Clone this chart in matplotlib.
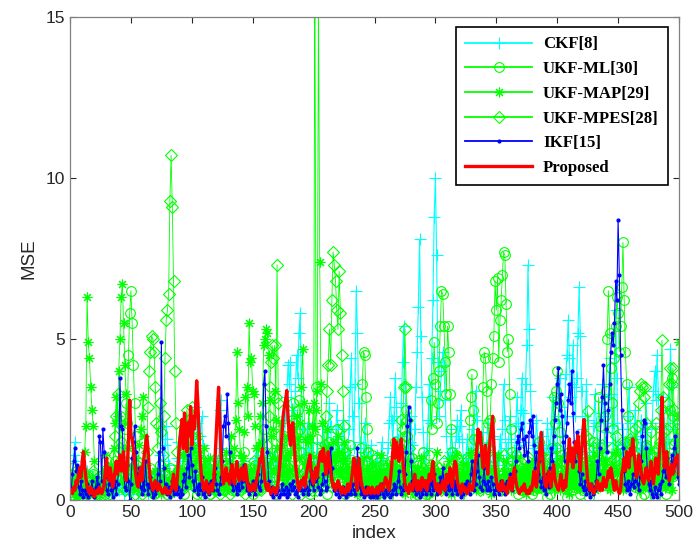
import numpy as np
import matplotlib
matplotlib.use("Agg")
import matplotlib.pyplot as plt

# ---------------- data (index 1..500) ----------------
ckf = [
0.5,0.9,1.4,1.8,1.2,0.6,0.3,0.8,0.4,0.2,0.6,0.3,0.5,0.9,0.4,0.2,0.3,0.7,0.4,0.2,0.5,0.3,0.6,0.4,0.2,
0.3,0.6,0.9,0.5,0.3,0.2,0.4,0.7,0.3,0.5,0.2,0.4,0.8,0.5,0.3,0.6,0.9,0.4,0.2,0.3,0.5,0.7,0.3,0.2,0.4,
0.6,0.3,0.5,0.8,0.4,0.2,0.3,0.6,0.4,0.7,1.0,0.5,0.3,0.2,0.4,0.6,0.3,0.5,0.8,0.4,0.3,0.6,1.0,1.4,0.7,
0.5,1.2,1.7,2.3,1.9,1.1,0.6,0.4,0.7,0.3,0.5,0.8,1.3,1.8,1.2,0.6,0.9,1.5,2.0,1.4,0.8,0.5,1.0,1.6,2.2,
2.5,1.8,2.9,2.4,1.5,0.9,2.0,2.6,1.7,1.0,0.6,0.9,1.3,0.8,0.5,0.7,1.1,0.6,0.4,0.8,1.2,0.9,2.8,3.1,1.6,
1.0,0.6,0.9,0.5,0.7,1.2,0.8,0.5,0.3,0.6,0.9,0.5,0.7,1.0,0.6,0.4,0.8,1.2,0.9,0.6,0.4,0.7,1.0,0.6,0.5,
0.8,1.3,0.9,1.6,1.1,0.7,1.4,0.9,0.6,1.1,0.8,0.5,0.9,1.3,0.8,0.6,1.0,1.5,1.1,0.7,0.5,0.9,1.3,0.8,1.2,
1.9,2.6,3.2,4.2,3.6,4.3,2.8,1.6,2.2,3.4,4.5,3.8,5.2,5.8,3.5,2.2,1.4,0.9,1.6,2.4,1.5,0.9,1.3,1.8,1.0,
0.7,1.2,1.8,1.1,0.6,0.9,1.5,2.3,1.6,0.8,1.3,2.1,3.0,2.3,1.4,0.8,1.2,1.9,2.8,2.2,1.5,1.0,1.6,2.5,1.8,
1.2,0.8,1.4,2.2,3.5,4.4,2.6,1.6,3.6,6.5,5.2,3.0,1.8,1.2,0.9,1.5,2.4,1.6,1.0,0.7,1.1,1.7,1.2,0.8,0.6,
0.9,1.4,1.0,0.7,1.2,1.8,1.3,0.9,0.6,1.0,1.6,2.4,3.2,2.5,1.8,2.6,3.8,2.9,1.9,1.3,2.0,3.0,4.3,5.4,3.6,
2.4,1.6,1.1,1.8,2.6,1.7,1.2,2.2,3.5,4.6,6.0,8.1,5.1,3.2,2.1,1.4,0.9,1.6,2.5,3.6,2.4,4.4,6.2,8.8,10.0,
7.6,4.3,2.6,3.4,4.0,4.6,4.2,3.1,2.0,1.3,0.9,1.5,2.2,1.6,1.0,1.4,2.0,2.5,1.8,2.3,2.8,1.9,1.2,0.8,1.3,
1.9,1.4,0.9,1.5,2.2,1.6,2.6,3.4,2.5,1.7,1.2,0.8,1.3,2.1,1.5,1.0,1.7,2.4,1.8,1.2,0.8,1.4,2.0,1.5,1.1,
0.8,1.3,1.9,1.4,2.2,3.6,2.5,1.6,1.1,1.8,2.6,1.9,1.3,0.9,1.5,2.3,3.2,2.4,1.7,2.8,3.8,2.7,1.8,3.6,4.8,
7.3,5.3,3.4,2.4,1.6,1.1,1.7,2.5,1.8,1.2,0.8,1.3,2.0,1.5,1.0,1.6,2.4,1.7,1.2,2.2,3.2,2.4,1.6,1.1,1.7,
2.6,3.8,2.9,2.0,1.4,2.6,3.9,4.5,5.6,4.4,3.2,3.6,4.8,3.5,2.6,3.8,5.2,6.6,5.1,3.4,2.2,1.5,2.6,3.6,2.5,
1.7,1.2,0.9,1.5,2.3,3.3,2.4,1.6,1.1,1.8,2.7,3.6,2.6,1.8,1.3,2.1,3.2,4.4,3.3,2.3,1.5,2.4,5.9,3.8,1.7,
1.2,0.9,1.5,2.2,1.6,1.1,1.7,2.6,3.5,2.4,1.6,1.2,1.9,2.8,2.0,1.4,1.0,1.6,2.5,1.8,1.2,2.1,3.0,2.2,1.5,
1.0,1.6,2.4,3.4,4.0,3.1,4.5,3.3,2.2,1.5,2.3,3.2,2.4,1.6,1.1,1.9,2.8,4.7,3.5,2.4,1.6,2.2,1.5,1.0,0.8,
]

ukf_ml = [
0.8,1.0,0.5,0.3,0.6,0.2,0.4,0.9,0.3,0.1,0.5,0.7,0.3,0.2,0.6,0.4,0.1,0.3,0.8,0.5,0.2,0.4,0.6,0.3,0.1,
0.4,0.7,0.3,0.2,0.5,0.9,0.4,0.2,0.6,0.3,0.8,1.2,0.7,0.4,1.5,2.6,1.8,1.0,0.6,2.2,3.0,2.4,4.5,5.8,6.5,
5.5,4.2,3.0,2.0,1.2,0.7,0.4,0.9,0.6,0.3,0.5,0.8,0.5,0.3,0.6,1.0,0.5,0.3,0.2,0.5,0.8,0.4,0.6,1.1,0.6,
0.3,0.5,0.8,0.4,0.2,0.6,1.0,0.5,0.3,0.4,0.7,0.3,0.5,0.9,0.3,0.8,0.4,0.6,0.2,0.8,1.4,0.9,0.5,1.6,0.7,
1.1,0.6,0.4,0.2,0.5,0.8,1.2,0.3,0.4,0.6,0.9,0.5,1.0,0.7,0.2,0.7,0.4,0.8,0.3,0.9,0.5,0.3,0.6,1.0,0.5,
0.3,0.7,1.1,0.6,0.4,0.8,0.5,0.3,0.6,1.0,0.6,0.4,0.7,0.3,0.8,0.5,0.9,1.5,1.0,0.6,0.4,0.8,0.4,1.0,0.2,
0.7,1.1,0.8,0.3,0.8,0.5,0.9,0.4,2.2,1.5,0.9,0.6,1.0,0.6,1.3,0.7,1.1,0.7,0.2,0.9,1.4,0.9,0.6,1.0,0.5,
2.0,1.4,0.9,0.6,1.1,0.7,2.5,3.0,2.4,1.6,2.1,2.8,3.1,2.2,1.5,1.0,0.6,1.3,0.7,1.1,0.7,0.2,0.8,1.2,0.8,
17.0,3.5,1.9,1.2,0.8,0.4,1.2,0.6,1.0,0.7,0.2,0.9,1.8,1.1,0.4,0.9,0.5,1.3,2.2,1.4,0.6,1.1,0.7,1.6,0.8,
0.2,0.8,0.3,1.0,1.7,0.9,0.3,0.9,0.5,1.2,0.6,1.0,0.7,1.6,3.6,4.6,4.5,3.2,2.2,1.5,1.0,0.6,1.4,0.7,0.1,
0.7,0.2,0.8,0.3,0.8,0.4,1.1,0.5,1.0,0.6,0.1,0.7,1.2,0.8,0.3,1.0,1.8,1.1,0.4,0.9,0.5,1.2,0.6,1.0,2.0,
2.8,2.0,1.3,0.9,0.5,1.3,0.7,0.1,0.7,0.2,0.9,0.4,0.9,0.6,1.5,0.8,0.2,0.8,0.4,1.4,3.1,2.2,3.8,4.9,3.6,
2.4,3.0,4.0,5.4,6.5,6.4,5.4,4.3,3.3,5.4,4.6,3.3,2.2,1.5,1.0,0.6,1.4,0.7,0.1,0.8,0.3,1.0,0.5,1.0,0.6,
1.3,0.7,2.5,3.2,3.9,2.8,1.9,1.3,0.6,1.9,1.2,0.5,1.6,3.5,4.6,4.4,3.4,2.4,1.6,2.5,3.6,4.4,5.1,6.8,5.9,
6.9,4.3,5.6,6.2,7.0,7.7,7.6,6.1,4.6,5.0,3.3,2.2,1.5,1.0,0.6,1.4,0.8,0.2,0.8,0.3,1.0,0.4,0.9,0.5,1.2,
0.6,1.0,0.7,0.2,0.8,0.3,0.9,0.4,1.1,1.8,1.0,0.4,0.9,0.5,1.3,0.7,0.1,0.7,0.2,0.9,1.6,3.2,2.4,3.4,4.0,
3.0,2.1,1.4,0.9,0.5,1.2,0.6,0.1,0.7,1.5,0.9,0.3,0.9,0.4,1.1,0.5,1.0,0.7,0.2,0.8,0.3,0.9,0.5,1.2,0.6,
0.1,0.8,0.3,1.0,1.8,1.1,0.4,1.4,3.2,2.3,1.6,1.1,0.8,2.6,3.4,5.0,6.5,5.2,4.1,3.0,2.2,4.4,5.4,6.3,5.8,
4.6,5.4,6.6,8.0,6.2,4.6,3.6,2.6,1.8,1.2,0.9,1.8,1.0,0.4,0.9,0.5,1.2,0.6,0.1,0.7,0.2,0.9,1.7,1.0,0.4,
0.9,0.5,1.3,0.7,0.1,0.8,0.3,1.0,0.5,1.0,0.6,1.4,0.8,0.2,0.8,0.4,1.1,2.8,3.8,2.6,1.7,1.1,2.2,1.5,1.0,
]

ukf_map = [
0.3,0.5,0.2,0.6,0.4,0.1,0.3,0.7,0.4,0.2,0.8,1.5,2.3,6.3,4.9,4.4,3.5,2.8,2.3,1.2,0.6,0.3,0.5,0.2,0.4,
0.6,0.3,0.9,1.4,0.8,0.5,0.3,0.7,1.1,0.6,1.6,2.4,3.2,2.6,4.0,5.0,6.3,6.7,5.5,4.2,3.3,2.4,1.6,1.0,0.6,
0.4,0.8,1.3,0.7,0.5,1.0,1.7,2.2,2.6,3.2,2.0,1.1,0.6,0.4,0.8,0.3,0.5,0.2,0.6,0.9,0.4,0.3,0.7,0.5,0.2,
0.4,0.7,1.0,0.5,0.3,0.6,0.4,0.2,0.5,0.8,0.4,0.3,0.6,1.0,0.7,0.4,0.8,1.4,0.9,0.5,0.7,1.2,0.8,0.5,1.0,
1.6,1.1,0.7,1.3,2.0,1.4,0.8,0.5,1.0,1.6,1.2,0.7,0.4,0.8,1.3,0.9,0.5,0.3,0.7,1.1,0.6,0.4,0.8,1.3,0.8,
0.5,0.9,1.5,1.0,0.6,1.2,2.0,1.4,0.9,1.6,2.5,4.6,3.0,2.2,1.4,0.8,1.3,2.1,3.2,3.5,2.6,5.5,4.3,4.4,3.4,
3.3,2.3,1.6,1.0,1.7,2.6,1.8,3.0,4.8,5.0,5.3,5.2,4.5,3.1,2.0,1.3,2.2,3.4,2.5,1.6,1.0,1.6,2.4,1.7,1.1,
0.8,1.3,2.0,1.4,0.9,1.5,2.2,1.6,1.0,1.7,2.6,1.9,1.3,2.4,3.5,4.7,3.0,1.9,1.2,1.8,2.8,2.0,1.4,2.3,3.0,
2.2,2.8,3.4,16.0,7.4,3.6,2.4,1.6,1.0,1.5,2.2,1.6,1.1,0.7,1.2,1.8,1.3,0.9,1.4,2.0,1.5,1.0,0.7,1.2,1.8,
1.3,0.9,0.6,1.0,0.4,0.7,0.3,0.8,1.2,0.5,0.2,0.6,1.0,0.4,0.7,1.3,0.6,0.3,0.5,0.9,0.4,0.2,0.6,1.1,0.5,
0.3,0.7,0.4,0.9,1.4,0.6,0.3,0.5,0.2,0.8,0.5,1.1,0.6,0.3,0.7,0.4,1.0,1.6,0.8,0.4,0.6,0.3,0.9,0.5,0.2,
0.6,1.2,0.7,0.4,0.3,0.8,0.5,0.2,0.6,1.0,0.4,0.7,1.3,0.8,0.5,0.3,0.6,0.9,0.4,0.2,0.7,1.1,0.6,0.4,0.8,
1.5,0.9,0.5,0.3,0.7,0.4,1.0,0.6,0.3,0.8,1.2,0.5,0.2,0.6,0.4,0.9,1.4,0.7,0.3,0.5,0.8,0.4,1.1,0.6,0.3,
0.7,0.4,0.9,1.5,0.8,0.4,0.6,0.3,1.0,0.5,0.8,1.3,0.6,0.3,0.7,0.4,1.1,0.6,0.9,0.4,0.2,0.6,1.0,0.5,0.8,
1.4,0.7,0.4,0.6,0.3,0.9,0.5,1.2,0.7,0.4,0.8,0.3,0.6,1.0,0.5,0.7,1.3,0.8,0.4,0.6,0.3,0.9,0.5,0.2,0.7,
1.1,0.6,0.4,0.8,0.3,0.6,1.2,0.7,0.4,0.9,0.5,1.4,0.8,0.3,0.6,0.4,1.0,0.5,0.7,1.2,0.6,0.3,0.8,0.5,1.1,
0.6,0.3,0.7,1.3,0.8,0.4,0.6,0.9,0.5,0.2,0.7,1.1,0.6,0.4,0.8,1.5,0.9,0.5,0.3,0.6,1.0,0.4,0.7,1.2,0.6,
0.3,0.8,0.5,1.0,0.6,0.3,0.7,1.4,0.8,0.4,0.6,0.9,0.5,1.2,0.7,0.4,0.8,0.3,0.6,1.1,0.5,0.9,1.5,0.8,0.4,
0.6,1.0,0.5,0.3,0.7,1.2,0.6,0.4,0.9,0.5,0.8,1.3,0.7,0.4,0.6,1.0,0.5,0.3,0.8,1.4,0.7,0.4,0.6,0.9,0.5,
1.1,0.6,0.3,0.7,1.2,0.8,0.4,0.6,1.0,0.5,0.8,1.3,0.7,0.4,0.9,0.5,1.1,0.6,0.3,0.7,1.2,0.8,1.5,2.6,4.9,
]

ukf_mpes = [
0.4,0.2,0.6,0.3,0.9,0.5,0.2,0.4,0.7,0.3,0.1,0.5,0.8,0.4,0.2,0.6,0.3,0.5,0.9,0.4,0.2,0.3,0.7,0.4,0.2,
0.5,0.8,0.3,0.6,1.0,0.5,0.3,0.7,0.4,0.9,1.4,2.0,2.6,3.3,2.4,1.6,0.9,0.4,0.8,0.3,0.6,1.2,0.5,0.3,0.8,
0.4,0.9,0.2,0.6,1.1,0.7,0.3,0.8,0.2,0.5,0.3,0.9,1.5,2.9,4.0,4.6,5.1,5.0,4.6,3.5,2.4,1.6,2.3,3.0,2.1,
1.4,2.6,4.4,5.6,5.9,6.4,9.3,10.7,9.1,6.8,4.0,2.4,1.5,0.9,0.4,0.8,0.3,0.6,1.5,2.3,2.8,2.1,1.5,2.4,2.9,
2.2,1.6,1.1,0.6,0.3,0.8,0.4,0.2,0.7,1.2,0.6,0.3,0.9,0.5,0.2,0.7,0.4,0.8,0.3,0.6,0.9,0.4,0.2,0.7,0.4,
0.8,0.3,0.5,1.0,0.6,0.2,0.7,0.4,0.9,0.3,0.6,1.2,0.5,0.8,0.3,0.6,1.0,0.4,0.2,0.7,0.4,0.9,0.5,0.3,0.8,
1.2,0.5,0.3,0.7,0.4,0.9,0.3,0.6,1.1,0.5,1.0,1.7,2.6,3.5,4.3,4.8,4.4,4.8,3.2,7.3,3.0,2.0,1.3,0.8,0.4,
0.7,0.3,0.8,0.4,1.0,0.5,0.2,0.6,0.9,0.4,0.7,0.3,1.1,0.6,0.2,0.8,0.5,1.2,0.7,0.3,0.6,1.0,0.5,0.3,0.7,
1.2,0.6,0.3,0.9,0.5,1.4,0.8,0.4,1.7,2.6,3.4,4.2,5.3,4.2,6.2,7.7,7.3,6.8,5.9,5.3,7.1,5.8,4.5,3.4,2.3,
1.5,1.0,0.5,0.8,0.3,0.6,1.1,0.4,0.8,0.3,0.5,0.9,0.2,0.6,1.0,0.4,0.7,0.3,1.2,0.6,0.3,0.8,0.4,0.9,0.5,
1.3,0.6,0.2,0.7,0.4,1.0,0.5,0.3,0.8,0.6,1.1,0.4,0.9,0.3,0.7,0.5,1.0,1.7,0.8,0.4,1.6,2.5,2.2,3.5,5.3,
3.5,2.5,1.6,1.0,0.5,0.9,0.4,0.7,0.3,0.8,1.2,0.5,0.3,0.7,1.0,0.4,0.9,0.5,0.2,0.7,1.1,0.6,0.3,0.8,0.4,
0.8,0.5,1.0,0.6,0.3,0.7,1.2,0.6,0.4,0.9,0.5,0.3,0.7,1.1,0.6,0.4,0.8,1.3,0.7,0.4,0.6,1.0,0.5,0.3,0.7,
1.2,0.7,0.4,0.8,0.5,1.4,0.8,0.4,0.6,1.0,0.5,0.3,0.7,1.2,0.6,0.9,1.6,0.9,0.5,0.7,0.4,0.8,1.3,0.7,0.4,
0.6,1.1,0.6,0.3,0.8,1.4,0.7,0.4,0.6,1.0,0.5,0.8,1.2,0.6,0.4,0.7,1.1,0.6,0.9,1.5,0.8,0.4,0.6,1.0,0.5,
0.8,1.3,0.7,0.4,0.9,0.5,0.7,1.2,0.6,0.4,0.8,1.4,0.8,0.5,0.7,1.1,0.6,0.4,0.9,0.5,0.8,1.3,0.7,1.0,1.6,
0.9,0.5,0.7,1.2,0.6,0.4,0.8,1.3,0.7,0.5,0.9,1.5,0.8,0.5,0.7,1.2,0.6,0.9,1.6,0.9,0.5,0.8,1.3,2.0,2.75,
1.9,1.2,0.7,1.0,1.6,0.9,0.5,0.8,1.3,0.7,1.1,1.7,1.0,0.6,0.9,1.4,0.8,0.5,1.0,1.6,0.9,1.3,2.0,1.2,0.7,
1.0,1.6,0.9,0.6,1.1,1.8,1.1,0.7,1.2,1.9,1.2,0.8,1.4,2.2,1.5,2.3,3.0,3.4,3.6,3.5,3.2,3.5,2.4,1.6,1.0,
1.4,2.1,1.4,0.9,1.5,2.4,1.6,1.1,1.8,2.8,4.96,3.2,2.1,1.4,2.2,3.0,3.6,4.1,3.6,4.1,2.8,1.8,1.2,2.4,1.5,
]

ikf = [
0.3,0.8,1.2,1.6,0.9,1.1,0.4,0.2,0.6,0.3,0.1,0.3,0.2,0.5,0.1,0.3,0.2,0.6,0.3,0.1,0.4,0.7,0.5,2.0,1.8,
0.6,2.2,1.5,0.7,0.3,0.2,0.5,0.8,0.3,0.1,0.4,0.6,0.2,0.5,1.0,3.8,2.3,2.2,0.9,0.4,0.3,1.1,0.6,0.0,0.5,
1.3,1.8,2.3,1.5,0.8,0.5,1.0,0.4,0.2,0.6,0.3,1.2,0.5,0.2,0.4,0.7,0.3,0.1,0.5,0.2,0.3,0.8,1.5,0.6,4.9,
1.6,1.0,0.3,0.5,0.2,0.4,0.1,0.3,0.6,0.2,0.3,0.5,0.2,0.4,0.1,0.3,0.2,0.6,0.8,0.4,1.0,1.4,0.7,1.6,1.1,
0.6,0.3,0.9,0.4,0.2,0.5,0.3,0.7,0.2,0.4,0.1,0.3,0.5,0.2,0.3,0.6,0.3,0.8,1.0,0.5,0.3,0.2,0.5,0.7,1.2,
2.3,2.6,2.0,3.3,2.4,1.5,0.9,0.5,0.3,0.6,0.4,0.2,0.5,0.3,0.8,0.4,0.6,1.1,0.7,0.3,0.5,0.2,0.4,0.3,0.6,
0.3,0.2,0.5,0.8,0.4,0.3,0.6,1.2,3.6,4.0,2.3,1.5,0.6,0.3,0.2,0.4,0.1,0.3,0.2,0.4,0.3,0.1,0.2,0.5,0.3,
0.2,0.4,0.1,0.3,0.2,0.5,0.3,0.6,0.4,0.2,0.3,0.1,0.4,0.3,0.6,0.2,0.3,0.5,0.4,0.2,0.3,0.6,0.9,0.5,0.3,
0.6,1.0,0.7,0.4,0.2,0.3,0.5,0.8,0.6,0.3,0.4,0.9,1.2,1.6,1.0,0.5,0.3,0.2,0.4,0.3,0.1,0.3,0.2,0.4,0.2,
0.3,0.1,0.2,0.4,0.3,0.2,0.5,0.3,0.2,0.6,1.6,0.8,0.4,0.2,0.3,0.1,0.2,0.4,0.2,0.3,0.1,0.2,0.3,0.1,0.2,
0.3,0.1,0.4,0.2,0.3,0.5,0.2,0.1,0.3,0.2,0.4,0.3,0.1,0.2,0.3,0.5,0.4,0.2,0.6,0.9,0.4,0.2,0.3,0.5,0.8,
1.5,2.3,2.9,2.5,1.2,0.6,0.3,0.4,0.2,0.5,0.3,0.1,0.4,0.2,0.3,0.6,0.2,0.4,0.3,0.5,0.2,0.6,0.3,0.8,0.4,
0.2,0.5,0.3,0.7,0.4,1.0,0.6,0.3,0.2,0.5,0.3,0.8,0.4,0.2,0.6,0.3,0.5,0.2,0.4,0.3,0.1,0.3,0.2,0.5,0.3,
0.6,0.4,0.2,0.8,1.2,0.6,0.3,0.5,0.9,1.4,0.7,0.4,0.3,0.6,1.0,0.5,0.3,0.6,0.4,0.3,0.7,0.5,0.2,0.3,0.5,
0.3,0.2,0.4,0.6,0.3,0.5,0.2,0.3,0.6,0.4,0.8,0.5,0.3,0.6,0.9,1.2,1.8,2.0,1.6,2.2,2.4,1.9,1.4,2.0,1.5,
1.2,2.1,2.5,2.0,2.6,1.7,1.0,1.5,0.8,1.2,0.6,0.4,0.7,0.3,0.5,0.2,0.8,0.4,1.0,1.6,1.2,2.0,2.5,3.0,3.6,
4.1,2.8,3.3,2.6,1.8,1.2,2.0,2.4,3.1,3.6,3.0,4.0,2.7,1.8,1.2,2.1,1.5,0.9,0.5,0.8,0.4,0.3,0.6,0.2,0.4,
0.3,0.1,0.5,0.2,0.4,0.3,0.6,1.2,0.8,1.6,2.5,3.2,4.2,3.0,2.2,1.5,2.8,3.6,4.6,5.2,4.8,5.5,6.8,6.2,8.7,
7.0,4.5,2.8,1.6,0.9,0.5,0.3,0.6,0.4,0.2,0.5,0.8,0.4,0.6,1.0,0.5,0.3,0.7,1.2,2.0,2.5,2.4,1.6,0.9,0.5,
0.3,0.6,0.2,0.1,0.4,0.2,0.1,0.3,0.5,0.2,0.6,0.9,1.1,0.7,1.3,0.8,0.5,1.0,1.4,0.9,1.6,2.0,1.2,0.7,0.5,
]

proposed = [
0.3,0.2,0.4,0.3,0.6,0.5,0.8,1.0,0.7,1.2,1.5,1.1,0.7,0.4,0.3,0.2,0.4,0.2,0.3,0.1,0.2,0.3,0.2,0.4,0.3,
0.2,0.3,0.5,0.9,1.3,0.8,0.6,1.0,0.7,0.4,0.6,0.9,1.2,0.8,1.1,1.4,0.9,1.2,1.5,0.8,0.6,1.0,1.8,3.1,2.0,
1.9,1.6,1.2,0.8,0.5,0.4,0.7,1.0,0.6,1.1,1.4,1.7,2.0,1.6,1.0,0.6,0.5,0.3,0.4,0.6,0.4,0.3,0.5,0.4,0.3,
0.2,0.3,0.4,0.2,0.3,0.2,0.2,0.3,0.5,0.8,0.4,0.3,0.6,1.2,1.8,2.2,2.5,1.6,2.7,2.0,1.5,2.4,2.0,2.9,1.7,
2.6,2.2,2.8,3.7,3.0,2.0,1.2,0.7,0.5,0.3,0.4,0.6,0.3,0.2,0.4,0.5,0.3,0.6,1.2,2.0,2.8,3.5,2.4,1.4,0.8,
0.5,0.7,1.0,0.6,0.8,0.5,0.9,1.1,0.7,0.5,0.9,1.2,0.8,0.6,0.9,1.0,0.7,0.6,1.1,0.8,0.5,0.3,0.4,0.3,0.5,
0.4,0.3,0.6,0.8,1.0,1.3,1.2,1.6,1.0,0.6,0.4,0.3,0.5,0.3,0.2,0.3,0.4,0.3,0.2,0.3,0.6,1.0,1.5,2.0,2.6,
2.9,3.1,3.4,2.6,2.0,1.7,2.3,2.4,1.8,1.2,0.8,0.5,0.3,0.4,0.6,0.5,0.7,0.4,0.8,1.0,1.2,1.4,0.9,0.6,0.5,
0.8,1.0,0.7,1.1,1.4,1.5,1.2,1.6,1.3,0.8,1.0,1.5,1.2,0.9,0.6,0.4,0.5,0.3,0.4,0.6,0.5,0.3,0.2,0.4,0.3,
0.2,0.3,0.5,0.3,0.4,0.6,0.9,1.3,1.0,0.5,0.3,1.3,1.0,0.6,0.4,0.3,0.2,0.3,0.2,0.4,0.3,0.2,0.4,0.3,0.2,
0.3,0.4,0.2,0.3,0.5,0.4,0.3,0.5,0.7,0.6,0.4,0.3,0.6,1.0,1.5,1.9,1.3,1.8,1.6,1.2,1.5,1.9,1.4,0.9,0.5,
0.3,0.4,0.2,0.5,0.4,0.3,0.5,0.8,0.5,0.3,0.6,0.4,0.3,0.7,0.5,0.4,0.6,0.3,0.5,0.8,0.6,0.9,1.2,0.7,0.4,
0.3,0.5,0.3,0.2,0.4,0.6,0.4,0.3,0.8,0.5,0.6,1.0,0.7,0.4,0.9,1.2,1.1,0.6,0.4,0.3,0.2,0.5,0.3,0.4,0.3,
0.2,0.3,0.5,0.4,0.3,0.4,0.8,1.2,1.6,2.2,1.8,2.1,1.5,1.0,1.3,1.7,1.2,0.8,1.4,1.9,2.2,2.6,1.7,1.0,0.6,
0.4,0.3,0.5,0.3,0.6,0.4,0.3,0.4,0.2,0.5,0.7,0.4,0.3,0.8,1.0,0.6,0.4,0.3,0.2,0.3,0.4,0.3,0.5,0.3,0.2,
0.3,0.2,0.4,0.3,0.6,0.9,0.5,0.4,0.8,1.2,1.7,2.1,1.4,0.8,0.5,0.4,0.7,0.9,0.6,0.4,0.8,1.1,0.7,0.5,0.4,
0.3,0.5,0.8,0.5,0.3,0.6,0.4,0.9,1.4,1.9,1.2,1.6,1.0,1.4,1.8,1.5,2.0,1.3,0.9,1.5,2.1,2.5,1.8,1.1,0.6,
0.4,0.3,0.5,0.3,0.2,0.3,0.4,0.6,0.4,0.3,0.5,0.3,0.7,0.5,0.4,0.6,0.9,0.7,1.0,0.8,0.5,0.3,0.6,0.4,0.3,
0.2,0.3,0.8,1.0,1.3,0.9,1.5,1.2,1.0,1.6,1.4,1.9,1.5,1.1,0.7,0.8,1.4,1.2,0.9,0.6,0.5,0.7,1.0,0.8,0.6,
0.9,1.2,0.8,0.5,0.9,1.3,1.1,0.8,1.5,2.2,3.2,1.8,1.0,1.3,1.5,0.9,0.6,0.8,1.1,0.8,1.0,1.3,1.2,1.4,0.8,
]

labels = ["CKF[8]", "UKF-ML[30]", "UKF-MAP[29]", "UKF-MPES[28]", "IKF[15]", "Proposed"]
x_ticks = [0, 50, 100, 150, 200, 250, 300, 350, 400, 450, 500]
y_ticks = [0, 5, 10, 15]

# ---------------- figure ----------------
plt.rcParams['font.family'] = ['Liberation Sans', 'DejaVu Sans']
fig = plt.figure(figsize=(6.95, 5.58), dpi=100)
ax = fig.add_axes([70/695, 1-500/558, 609/695, 483/558])

GREEN = '#00ff00'
def idx(y):
    return np.arange(1, len(y) + 1)

ax.plot(idx(ckf), ckf, color='#00ffff', lw=0.8, marker='+', ms=8, mew=0.8, label=labels[0])
ax.plot(idx(ukf_ml), ukf_ml, color=GREEN, lw=0.6, marker='o', ms=7, mfc='none', mew=0.8, label=labels[1])
ax.plot(idx(ukf_map), ukf_map, color=GREEN, lw=0.6, marker=(8, 2, 0), ms=7, mew=0.8, label=labels[2])
ax.plot(idx(ukf_mpes), ukf_mpes, color=GREEN, lw=0.6, marker='D', ms=6, mfc='none', mew=0.8, label=labels[3])
ax.plot(idx(ikf), ikf, color='#0000ff', lw=0.8, marker='.', ms=4, label=labels[4])
ax.plot(idx(proposed), proposed, color='#ff0000', lw=2.4, label=labels[5])

ax.set_xlim(0, 500)
ax.set_ylim(0, 15)
ax.set_xticks(x_ticks)
ax.set_yticks(y_ticks)
ax.tick_params(direction='in', length=4, width=0.8, top=True, right=True,
               labelsize=12.5, colors='#262626')
for s in ax.spines.values():
    s.set_color('#808080')
    s.set_linewidth(0.9)
ax.set_xlabel('index', fontsize=13.5, color='#262626', labelpad=4)
ax.set_ylabel('MSE', fontsize=13.5, color='#262626', labelpad=6)

leg = ax.legend(loc='upper right', bbox_to_anchor=(0.982, 0.979), borderaxespad=0,
                fancybox=False, framealpha=1, edgecolor='black', handlelength=4.0,
                handletextpad=0.65, labelspacing=0.52, borderpad=0.55,
                prop={'family': 'Liberation Serif', 'weight': 'bold', 'size': 12.1})
leg.get_frame().set_linewidth(1.2)
for line in leg.get_lines():
    line.set_linewidth(max(line.get_linewidth(), 1.3))

fig.savefig('out.png', dpi=100)
